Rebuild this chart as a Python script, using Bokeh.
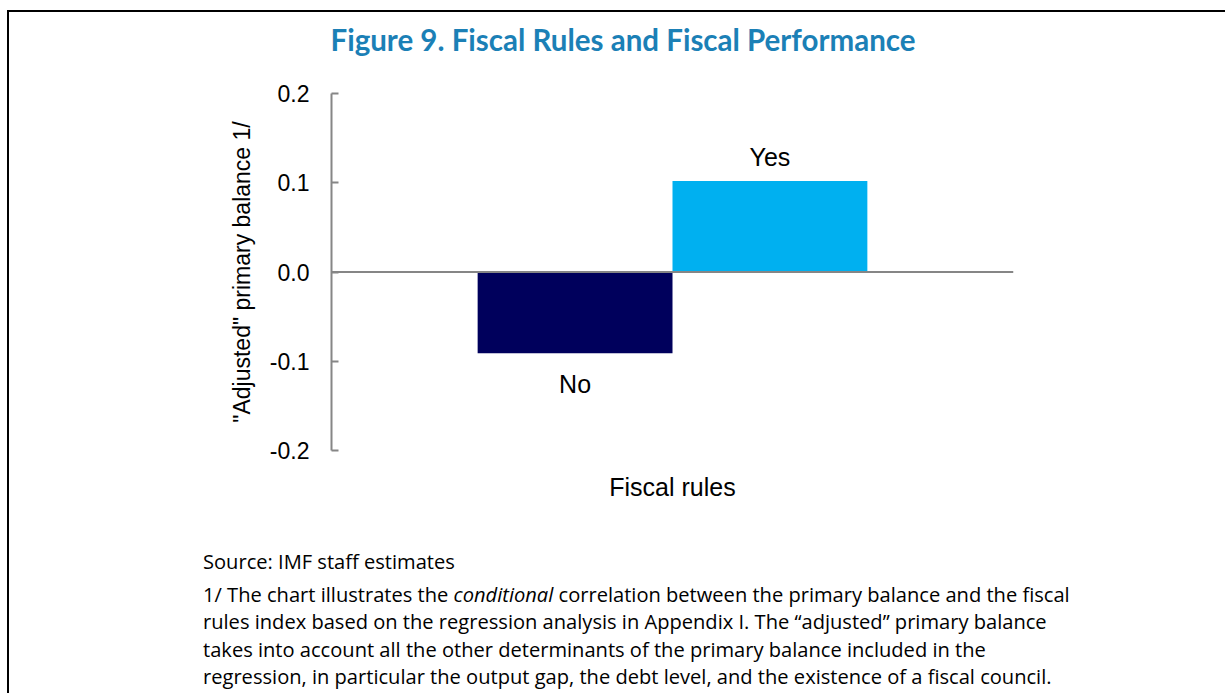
from bokeh.plotting import figure
from bokeh.models import (Range1d, FixedTicker, Span, LabelSet, Title,
                          ColumnDataSource, Div)
from bokeh.core.properties import value
from bokeh.layouts import column
from bokeh.embed import file_html
from bokeh.resources import INLINE

# ---------------- data ----------------
categories = ["No", "Yes"]
values = [-0.091, 0.102]
bar_colors = ["#00005C", "#00B0F0"]
y_ticks = [-0.2, -0.1, 0.0, 0.1, 0.2]
y_tick_labels = ["-0.2", "-0.1", "0.0", "0.1", "0.2"]
title_text = "Figure 9. Fiscal Rules and Fiscal Performance"
y_title = '"Adjusted" primary balance 1/'
x_title = "Fiscal rules"
source_note = "Source: IMF staff estimates"
footnote_lines = [
    "1/ The chart illustrates the conditional correlation between the primary balance and the fiscal",
    "rules index based on the regression analysis in Appendix I. The \u201cadjusted\u201d primary balance",
    "takes into account all the other determinants of the primary balance included in the",
    "regression, in particular the output gap, the debt level, and the existence of a fiscal council.",
]
italic_word = "conditional"

# ---------------- layout constants ----------------
gap_width = 1.5          # Excel-style gap width (150%)
bar_width = 1.0
n = len(categories)
half = n * bar_width / 2 + gap_width / 2
xs = [(i - (n - 1) / 2) * bar_width for i in range(n)]

AXIS_GRAY = "#868686"
FONT = "Liberation Sans"

p = figure(width=1209, height=531, output_backend="svg", toolbar_location=None,
           x_range=Range1d(-half, half), y_range=Range1d(y_ticks[0], y_ticks[-1]),
           min_border_left=322, min_border_right=205, min_border_top=81,
           min_border_bottom=93)
p.outline_line_color = None
p.grid.visible = False
p.background_fill_color = "white"
p.border_fill_color = "white"

src = ColumnDataSource(dict(x=xs, top=values, color=bar_colors, cat=categories))
p.vbar(x="x", top="top", bottom=0, width=bar_width, fill_color="color",
       line_color=None, source=src)

p.add_layout(Span(location=0, dimension="width", line_color=AXIS_GRAY, line_width=2))

# data labels (series names) outside the bar ends
pos = [i for i, v in enumerate(values) if v >= 0]
neg = [i for i, v in enumerate(values) if v < 0]
src_pos = ColumnDataSource(dict(x=[xs[i] for i in pos], y=[values[i] for i in pos],
                                t=[categories[i] for i in pos]))
src_neg = ColumnDataSource(dict(x=[xs[i] for i in neg], y=[values[i] for i in neg],
                                t=[categories[i] for i in neg]))
for s, off in ((src_pos, 24), (src_neg, -31)):
    p.add_layout(LabelSet(x="x", y="y", text="t", source=s, y_offset=off,
                          text_align="center", text_baseline="middle",
                          text_font=value(FONT), text_font_size=value("25px"),
                          text_color="black"))

# y axis
ya = p.yaxis[0]
ya.ticker = FixedTicker(ticks=y_ticks)
ya.major_label_overrides = {t: l for t, l in zip(y_ticks, y_tick_labels)}
ya.minor_tick_line_color = None
ya.major_tick_in = 7
ya.major_tick_out = 0
ya.major_tick_line_color = AXIS_GRAY
ya.major_tick_line_width = 2
ya.axis_line_color = AXIS_GRAY
ya.axis_line_width = 2
ya.major_label_standoff = 22
ya.major_label_text_font = FONT
ya.major_label_text_font_size = "23px"
ya.major_label_text_color = "black"
ya.axis_label = y_title
ya.axis_label_text_font = FONT
ya.axis_label_text_font_size = "23px"
ya.axis_label_text_font_style = "normal"
ya.axis_label_text_color = "black"
ya.axis_label_standoff = 12

# x axis: title only
xa = p.xaxis[0]
xa.ticker = FixedTicker(ticks=[])
xa.axis_line_color = None
xa.major_tick_line_color = None
xa.minor_tick_line_color = None
xa.axis_label = x_title
xa.axis_label_text_font = FONT
xa.axis_label_text_font_size = "25px"
xa.axis_label_text_font_style = "normal"
xa.axis_label_text_color = "black"
xa.axis_label_standoff = 22

# title, lifted above the frame by a blank spacer title
p.title = Title(text=title_text, align="left", offset=-1, standoff=0,
                vertical_align="bottom",
                text_font="Lato", text_font_style="bold", text_font_size="29.5px",
                text_color="#1B80B6")
p.add_layout(Title(text=" ", text_font_size="10px", standoff=24), "above")

# footnotes
def fmt(line):
    return line.replace(italic_word, "<i>" + italic_word + "</i>")

html = ('<div style="margin:0 0 5px 0">' + source_note + '</div>' +
        "<br>".join(fmt(l) for l in footnote_lines))
div = Div(text=html, width=1209, height=145,
          styles={"font-family": "Open Sans", "font-size": "20.1px", "line-height": "27.5px",
                  "color": "black", "padding-left": "189px", "box-sizing": "border-box",
                  "overflow": "visible"})

layout = column(p, div, spacing=0,
                styles={"border-top": "2px solid black", "border-left": "2px solid black",
                        "margin-left": "7px", "margin-top": "10px"})

open("out.html", "w").write(file_html(layout, INLINE))
